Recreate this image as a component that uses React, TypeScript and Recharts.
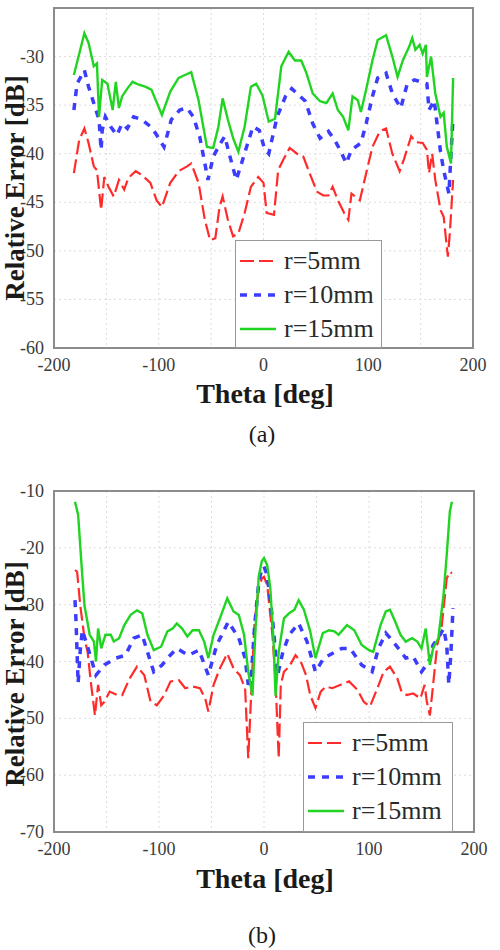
import { CartesianGrid, Legend, Line, LineChart, ReferenceArea, XAxis, YAxis } from 'recharts';

// series labels
const NAMES = ['r=5mm', 'r=10mm', 'r=15mm'];

// (a) relative error vs theta
const thetaA5 = [-181, -176, -171, -167, -162, -159, -155, -152, -148, -143, -138, -133, -129, -122, -116, -108, -102, -97, -89, -81, -73, -69, -62, -56, -51, -46, -42, -39, -34, -29, -24, -18, -12, -5, 0, 3, 10, 14, 19, 25, 32, 38, 44, 51, 57, 62, 66, 71, 77, 81, 84, 92, 98, 104, 111, 117, 123, 130, 134, 141, 145, 152, 156, 158, 161, 164, 169, 172, 176, 178, 181];
const errA5 = [-42.0, -38.6, -37.4, -38.9, -41.3, -41.7, -45.8, -42.4, -43.4, -44.4, -42.7, -43.7, -42.5, -41.8, -42.2, -43.0, -44.8, -45.5, -43.0, -41.8, -41.3, -41.0, -43.0, -46.8, -48.9, -48.7, -45.5, -44.4, -46.8, -48.5, -48.2, -46.1, -43.4, -42.4, -43.0, -46.1, -46.3, -41.7, -40.6, -39.4, -40.0, -40.3, -42.0, -43.9, -44.3, -44.3, -43.4, -44.8, -46.1, -46.8, -44.1, -44.8, -42.0, -39.3, -37.7, -37.4, -40.0, -41.8, -40.6, -38.2, -38.8, -38.9, -39.6, -42.0, -40.0, -42.7, -45.8, -46.5, -50.6, -48.0, -42.7];

const thetaA10 = [-181, -178, -171, -167, -162, -157, -155, -154, -151, -146, -140, -135, -130, -124, -116, -108, -103, -95, -88, -80, -73, -67, -61, -56, -53, -48, -42, -37, -32, -26, -21, -15, -10, -4, 1, 5, 13, 21, 27, 33, 40, 47, 54, 62, 68, 74, 79, 84, 93, 98, 104, 109, 117, 123, 131, 137, 144, 150, 156, 158, 163, 166, 169, 172, 177, 179, 181];
const errA10 = [-35.5, -32.8, -31.4, -33.1, -34.8, -36.5, -39.6, -37.6, -36.2, -37.2, -38.1, -36.9, -37.4, -36.2, -36.5, -37.2, -37.9, -39.3, -36.5, -35.5, -35.3, -36.2, -38.2, -41.0, -42.7, -40.3, -39.1, -38.2, -40.3, -42.7, -41.0, -38.9, -37.2, -37.6, -39.5, -40.0, -36.2, -34.1, -33.3, -33.9, -34.6, -36.9, -38.4, -37.7, -38.6, -39.8, -41.0, -39.6, -38.9, -36.9, -34.1, -32.2, -31.7, -33.8, -35.3, -32.9, -32.4, -32.6, -32.8, -35.5, -34.5, -37.2, -39.8, -41.7, -44.1, -40.0, -36.2];

const thetaA15 = [-181, -171, -167, -162, -159, -157, -154, -149, -144, -141, -138, -135, -130, -125, -119, -113, -107, -97, -89, -81, -75, -69, -62, -54, -48, -43, -39, -34, -29, -24, -18, -12, -7, -1, 5, 11, 17, 24, 30, 36, 41, 47, 54, 60, 66, 71, 76, 81, 85, 90, 93, 98, 104, 109, 117, 123, 128, 133, 139, 142, 145, 149, 152, 155, 156, 160, 164, 169, 172, 175, 179, 181];
const errA15 = [-31.9, -27.6, -28.6, -31.0, -30.7, -36.2, -32.4, -32.8, -35.5, -32.6, -35.3, -34.1, -33.3, -32.6, -32.9, -33.1, -33.4, -36.0, -33.6, -32.2, -31.9, -31.6, -34.5, -39.3, -39.4, -37.2, -34.3, -36.5, -38.4, -39.8, -37.2, -33.1, -32.8, -34.0, -36.7, -36.4, -31.0, -29.5, -30.4, -30.4, -31.7, -33.8, -34.6, -34.8, -33.8, -35.5, -36.2, -37.6, -34.1, -34.5, -35.7, -33.4, -30.4, -28.3, -27.8, -30.0, -32.1, -30.4, -29.0, -28.1, -29.3, -28.8, -29.7, -28.8, -32.1, -30.0, -33.8, -36.2, -35.8, -39.3, -41.0, -32.2];

// (b)
const thetaB5 = [-180, -178, -175, -171, -168, -165, -161, -158, -155, -152, -147, -140, -135, -128, -121, -114, -108, -102, -95, -89, -81, -75, -68, -61, -56, -53, -48, -42, -35, -29, -23, -18, -15, -12, -9, -5, -2, 0, 3, 8, 11, 14, 16, 19, 24, 30, 35, 40, 44, 49, 54, 59, 65, 73, 81, 89, 95, 101, 108, 114, 120, 127, 131, 136, 142, 149, 153, 155, 158, 160, 162, 165, 169, 174, 177, 179];
const errB5 = [-23.9, -24.2, -30.1, -35.9, -38.3, -43.5, -49.5, -44.1, -47.7, -47.1, -45.3, -45.9, -45.9, -43.0, -40.9, -42.4, -47.1, -47.7, -45.9, -43.5, -43.3, -44.7, -44.4, -44.7, -46.5, -48.8, -44.1, -41.2, -38.6, -41.2, -42.4, -44.7, -57.0, -45.0, -33.0, -27.0, -25.4, -25.1, -26.5, -35.3, -43.5, -57.0, -44.1, -41.8, -40.9, -38.9, -40.0, -42.4, -45.9, -48.2, -45.3, -44.4, -44.7, -44.1, -43.5, -45.0, -47.1, -47.9, -44.7, -41.8, -40.9, -43.0, -45.3, -45.9, -45.6, -46.5, -44.1, -47.0, -49.5, -46.0, -42.4, -37.1, -34.2, -25.4, -24.2, -24.5];

const thetaB10 = [-180, -179, -178, -177, -175, -173, -168, -160, -152, -141, -132, -124, -116, -110, -105, -97, -92, -83, -72, -62, -53, -45, -34, -24, -18, -15, -12, -9, -5, -2, 0, 3, 8, 13, 18, 24, 33, 41, 49, 57, 65, 74, 82, 93, 103, 109, 116, 123, 128, 135, 142, 150, 157, 161, 166, 171, 174, 176, 178, 180];
const errB10 = [-29.2, -33.0, -38.6, -43.8, -38.0, -34.5, -37.4, -42.4, -40.6, -39.4, -38.9, -35.9, -35.3, -38.9, -41.8, -40.6, -39.4, -37.7, -38.9, -38.0, -42.4, -37.1, -33.0, -35.9, -39.4, -44.1, -42.0, -34.0, -26.0, -23.6, -23.3, -24.8, -32.4, -42.4, -38.3, -35.3, -33.3, -36.5, -41.8, -39.4, -38.6, -37.7, -37.7, -40.6, -41.8, -37.7, -35.0, -36.5, -37.7, -39.4, -39.1, -41.8, -40.0, -37.1, -35.9, -34.2, -37.0, -44.0, -38.5, -30.6];

const thetaB15 = [-180, -177, -174, -171, -166, -162, -160, -158, -155, -151, -146, -143, -138, -133, -127, -121, -116, -111, -105, -98, -92, -87, -83, -78, -73, -68, -62, -57, -53, -48, -42, -35, -29, -24, -19, -15, -11, -8, -5, -2, 0, 3, 6, 9, 11, 14, 19, 24, 29, 33, 38, 44, 49, 56, 62, 67, 71, 79, 86, 93, 100, 104, 111, 116, 120, 125, 130, 135, 141, 146, 150, 154, 158, 161, 166, 171, 174, 177, 179];
const errB15 = [-11.9, -14.2, -22.4, -30.1, -35.3, -36.5, -40.0, -34.2, -37.7, -35.3, -35.3, -36.5, -35.9, -33.6, -31.8, -31.0, -31.5, -35.3, -38.0, -37.4, -34.7, -34.2, -33.3, -34.2, -35.6, -34.5, -34.5, -36.5, -39.4, -35.3, -32.4, -28.9, -31.2, -31.8, -35.3, -41.8, -46.0, -34.0, -25.0, -22.3, -21.8, -23.0, -27.1, -36.0, -46.0, -38.3, -32.4, -31.5, -30.9, -29.2, -30.9, -34.7, -39.4, -35.0, -34.5, -34.7, -35.3, -33.6, -34.5, -37.1, -38.0, -38.3, -33.6, -31.2, -30.9, -33.0, -35.3, -36.5, -35.9, -36.5, -37.7, -34.2, -40.6, -37.7, -35.9, -28.3, -21.3, -13.6, -11.9];

const X_TICKS = [-200, -150, -100, -50, 0, 50, 100, 150, 200];
const Y_TICKS_A = [-25, -30, -35, -40, -45, -50, -55, -60];
const Y_TICKS_B = [-10, -20, -30, -40, -50, -60, -70];

const STYLE: Record<string, { color: string; dash?: string; width: number }> = {
  'r=5mm': { color: '#ff2b2b', dash: '14 5', width: 2.2 },
  'r=10mm': { color: '#3c3cff', dash: '7 7', width: 3.5 },
  'r=15mm': { color: '#22d422', width: 2.4 },
};

const FONT = '"Liberation Serif", "Times New Roman", serif';

const rows = (theta: number[], err: number[]) => theta.map((t, i) => ({ theta: t, err: err[i] }));

// tick text drawn by hand so the serif face sticks
function XTick({ x, y, payload }: any) {
  const v = payload.value;
  if (v % 100 !== 0) return <g />;
  return (
    <text x={x} y={y + 23} textAnchor="middle" style={{ fontFamily: FONT, fontSize: 18, fill: '#3a3a3a' }}>
      {String(v)}
    </text>
  );
}

function YTick({ x, y, payload }: any) {
  return (
    <text x={x} y={y + 6} textAnchor="end" style={{ fontFamily: FONT, fontSize: 18, fill: '#3a3a3a' }}>
      {String(payload.value)}
    </text>
  );
}

function LegendBox({ w, h }: { w: number; h: number }) {
  return (
    <div
      style={{
        width: w,
        height: h,
        boxSizing: 'border-box',
        border: '1.5px solid #999',
        background: '#fff',
        padding: '3px 0 0 4px',
      }}
    >
      {NAMES.map((name) => {
        const s = STYLE[name];
        return (
          <div key={name} style={{ display: 'flex', alignItems: 'center', height: 34 }}>
            <svg width={36} height={10}>
              <line x1={0} y1={5} x2={36} y2={5} stroke={s.color} strokeWidth={s.width} strokeDasharray={s.dash} />
            </svg>
            <span style={{ marginLeft: 8, fontSize: 26, fontFamily: FONT, color: '#2a2a2a', lineHeight: 1 }}>
              {name}
            </span>
          </div>
        );
      })}
    </div>
  );
}

interface Panel {
  top: number;
  series: { name: string; data: { theta: number; err: number }[] }[];
  yDomain: [number, number];
  yTicks: number[];
  margin: { top: number; right: number; bottom: number; left: number };
  legend: { left: number; top: number; w: number; h: number };
}

function ErrorPanel({ top, series, yDomain, yTicks, margin, legend }: Panel) {
  return (
    <div style={{ position: 'absolute', left: 0, top }}>
      <LineChart width={500} height={420} margin={margin}>
        <CartesianGrid stroke="#dcdcdc" strokeDasharray="2 3" />
        <XAxis
          type="number"
          dataKey="theta"
          domain={[-200, 200]}
          ticks={X_TICKS}
          axisLine={false}
          tickLine={false}
          tickSize={0}
          tickMargin={0}
          height={30}
          tick={<XTick />}
          allowDataOverflow
        />
        <YAxis
          type="number"
          domain={yDomain}
          ticks={yTicks}
          axisLine={false}
          tickLine={false}
          tickSize={0}
          tickMargin={10}
          width={44}
          tick={<YTick />}
          allowDataOverflow
        />
        <ReferenceArea
          x1={-200}
          x2={200}
          y1={yDomain[0]}
          y2={yDomain[1]}
          fill="none"
          stroke="#8c8c8c"
          strokeWidth={2}
        />
        {series.map((s) => (
          <Line
            key={s.name}
            name={s.name}
            data={s.data}
            dataKey="err"
            type="linear"
            stroke={STYLE[s.name].color}
            strokeWidth={STYLE[s.name].width}
            strokeDasharray={STYLE[s.name].dash}
            dot={false}
            isAnimationActive={false}
          />
        ))}
        <Legend
          layout="horizontal"
          verticalAlign="middle"
          align="center"
          wrapperStyle={{ left: legend.left, top: legend.top, width: legend.w, height: legend.h }}
          content={() => <LegendBox w={legend.w} h={legend.h} />}
        />
      </LineChart>
    </div>
  );
}

function Title({ x, y, text, rotate, size, bold }: { x: number; y: number; text: string; rotate?: boolean; size: number; bold?: boolean }) {
  return (
    <div
      style={{
        position: 'absolute',
        left: x,
        top: y,
        transform: `translate(-50%, -50%)${rotate ? ' rotate(-90deg)' : ''}`,
        whiteSpace: 'nowrap',
        fontFamily: FONT,
        fontSize: size,
        fontWeight: bold ? 700 : 400,
        color: '#1a1a1a',
        lineHeight: 1,
      }}
    >
      {text}
    </div>
  );
}

export default function App() {
  const seriesA = [
    { name: NAMES[0], data: rows(thetaA5, errA5) },
    { name: NAMES[1], data: rows(thetaA10, errA10) },
    { name: NAMES[2], data: rows(thetaA15, errA15) },
  ];
  const seriesB = [
    { name: NAMES[0], data: rows(thetaB5, errB5) },
    { name: NAMES[1], data: rows(thetaB10, errB10) },
    { name: NAMES[2], data: rows(thetaB15, errB15) },
  ];

  return (
    <div style={{ position: 'absolute', left: 0, top: 0, width: 500, height: 950, background: '#fff', overflow: 'hidden' }}>
      <ErrorPanel
        top={0}
        series={seriesA}
        yDomain={[-60, -25]}
        yTicks={Y_TICKS_A}
        margin={{ top: 8, right: 27, bottom: 42, left: 10 }}
        legend={{ left: 235, top: 240, w: 147, h: 108 }}
      />
      <ErrorPanel
        top={470}
        series={seriesB}
        yDomain={[-70, -10]}
        yTicks={Y_TICKS_B}
        margin={{ top: 21, right: 26, bottom: 28, left: 10 }}
        legend={{ left: 303, top: 252, w: 150, h: 110 }}
      />
      <Title x={265} y={394} text="Theta [deg]" size={28} bold />
      <Title x={15} y={188} text="Relative Error [dB]" size={27} bold rotate />
      <Title x={262} y={434} text="(a)" size={24} />
      <Title x={265} y={879} text="Theta [deg]" size={28} bold />
      <Title x={15} y={674} text="Relative Error [dB]" size={27} bold rotate />
      <Title x={262} y={935} text="(b)" size={24} />
    </div>
  );
}
